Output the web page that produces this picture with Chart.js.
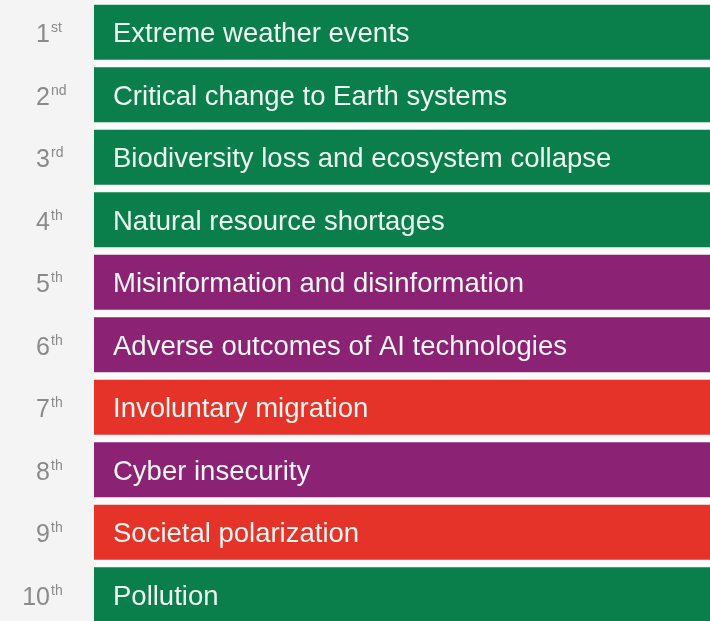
<!DOCTYPE html>
<html>
<head>
<meta charset="utf-8">
<script src="https://cdn.jsdelivr.net/npm/chart.js@4.4.1/dist/chart.umd.min.js"></script>
<style>
  html, body { margin: 0; padding: 0; overflow: hidden; background: #f4f4f4; }
  #wrap { width: 710px; height: 627px; }
</style>
</head>
<body>
<div id="wrap"><canvas id="riskChart"></canvas></div>
<script>
// Top 10 risks, in rank order
const ranks = ['1', '2', '3', '4', '5', '6', '7', '8', '9', '10'];
const rankSuffixes = ['st', 'nd', 'rd', 'th', 'th', 'th', 'th', 'th', 'th', 'th'];
const risks = [
  'Extreme weather events',
  'Critical change to Earth systems',
  'Biodiversity loss and ecosystem collapse',
  'Natural resource shortages',
  'Misinformation and disinformation',
  'Adverse outcomes of AI technologies',
  'Involuntary migration',
  'Cyber insecurity',
  'Societal polarization',
  'Pollution'
];
const categories = ['Environmental', 'Environmental', 'Environmental', 'Environmental',
  'Technological', 'Technological', 'Societal', 'Technological', 'Societal', 'Environmental'];
// every row is a full-width band
const barValues = [1, 1, 1, 1, 1, 1, 1, 1, 1, 1];

const categoryColors = {
  Environmental: '#0b7f4b',
  Technological: '#8c2274',
  Societal: '#e5332a'
};

const FONT = '"Liberation Sans", Arial, Helvetica, sans-serif';

// Paint the gray rank column and light band area
const backgroundPlugin = {
  id: 'bandBackground',
  beforeDraw(chart) {
    const { ctx, chartArea } = chart;
    ctx.save();
    ctx.fillStyle = '#f4f4f4';
    ctx.fillRect(0, 0, chartArea.left, chart.height);
    ctx.fillStyle = '#f9fbfa';
    ctx.fillRect(chartArea.left, 0, chart.width - chartArea.left, chart.height);
    ctx.restore();
  }
};

// Risk names inside bars, rank with superscript on the left
const labelPlugin = {
  id: 'riskLabels',
  afterDatasetsDraw(chart) {
    const { ctx } = chart;
    const meta = chart.getDatasetMeta(0);
    ctx.save();
    meta.data.forEach((bar, i) => {
      const baseline = bar.y + 10;

      ctx.fillStyle = '#eef6f1';
      ctx.font = '27.5px ' + FONT;
      ctx.textAlign = 'left';
      ctx.textBaseline = 'alphabetic';
      ctx.fillText(risks[i], bar.base + 19, baseline);

      ctx.fillStyle = '#8a8a8a';
      ctx.font = '25px ' + FONT;
      ctx.textAlign = 'right';
      ctx.fillText(ranks[i], 50, baseline);
      ctx.font = '14px ' + FONT;
      ctx.textAlign = 'left';
      ctx.fillText(rankSuffixes[i], 51, baseline - 10);
    });
    ctx.restore();
  }
};

new Chart(document.getElementById('riskChart'), {
  type: 'bar',
  data: {
    labels: risks,
    datasets: [{
      data: barValues,
      backgroundColor: categories.map(c => categoryColors[c]),
      borderWidth: 0,
      barPercentage: 0.88,
      categoryPercentage: 1
    }]
  },
  options: {
    indexAxis: 'y',
    responsive: true,
    maintainAspectRatio: false,
    animation: false,
    layout: {
      padding: { left: 94, top: 1, right: 0, bottom: 1 }
    },
    plugins: {
      legend: { display: false },
      tooltip: { enabled: false }
    },
    scales: {
      x: { display: false, min: 0, max: 1 },
      y: { display: false }
    }
  },
  plugins: [backgroundPlugin, labelPlugin]
});
</script>
</body>
</html>
